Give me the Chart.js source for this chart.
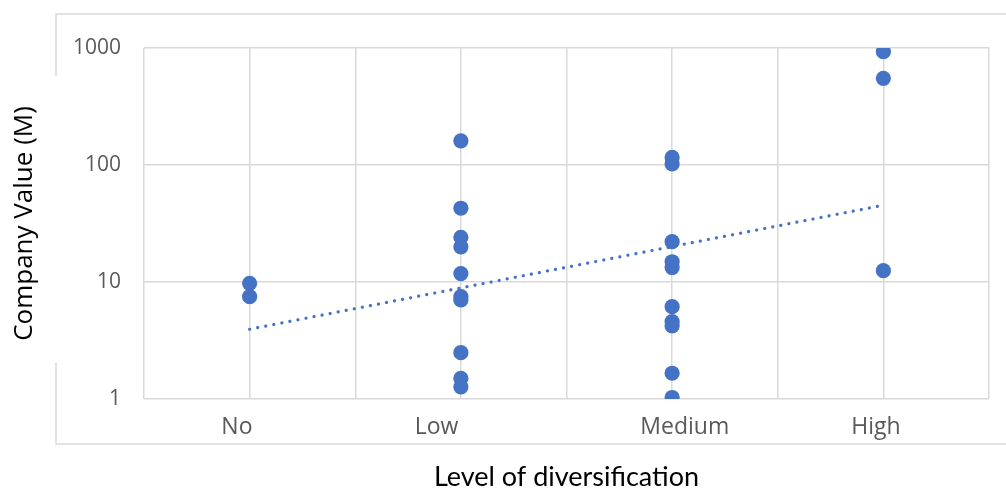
<!DOCTYPE html>
<html>
<head>
<meta charset="utf-8">
<script src="https://cdn.jsdelivr.net/npm/chart.js@4/dist/chart.umd.min.js"></script>
<style>
  html, body { margin: 0; padding: 0; background: #ffffff; }
  #wrap { width: 1006px; height: 491px; position: relative; }
</style>
</head>
<body>
<div id="wrap"><canvas id="chart" width="1006" height="491"></canvas></div>
<script>
// Diversification levels and their position on the horizontal scale
const categories = ['No', 'Low', 'Medium', 'High'];
const categoryX = [1, 3, 5, 7];

// Company values (millions) per level
const noValues = [9.75, 7.49];
const lowValues = [161, 42.7, 24.1, 20.0, 11.8, 7.49, 7.02, 2.49, 1.50, 1.27];
const mediumValues = [116, 102, 22.1, 14.9, 13.3, 6.15, 4.58, 4.21, 1.66, 1.03];
const highValues = [930, 551, 12.5];

// Value axis ticks (log scale)
const yTicks = [1, 10, 100, 1000];

const groups = [noValues, lowValues, mediumValues, highValues];
const points = [];
groups.forEach((vals, i) => vals.forEach(v => points.push({ x: categoryX[i], y: v })));

// Exponential trend line: least squares on log10(value)
function expTrend(pts) {
  const n = pts.length;
  let sx = 0, sy = 0, sxx = 0, sxy = 0;
  pts.forEach(p => {
    const ly = Math.log10(p.y);
    sx += p.x; sy += ly; sxx += p.x * p.x; sxy += p.x * ly;
  });
  const b = (n * sxy - sx * sy) / (n * sxx - sx * sx);
  const a = (sy - b * sx) / n;
  return x => Math.pow(10, a + b * x);
}
const trend = expTrend(points);
const xFirst = categoryX[0], xLast = categoryX[categoryX.length - 1];
const trendPoints = [{ x: xFirst, y: trend(xFirst) }, { x: xLast, y: trend(xLast) }];

const BLUE = '#4472C4';
const GRID = '#d9d9d9';
const TICK = '#595959';

// Shift of each category caption relative to its column
const captionShift = [-0.12, -0.23, 0.12, -0.07];

// Outer frame of the chart, opened where the value-axis title sits
const framePlugin = {
  id: 'frame',
  beforeDraw(chart) {
    const ctx = chart.ctx;
    ctx.save();
    ctx.strokeStyle = GRID;
    ctx.lineWidth = 1.5;
    ctx.beginPath();
    ctx.moveTo(1010, 14); ctx.lineTo(56, 14); ctx.lineTo(56, 76);
    ctx.moveTo(56, 363); ctx.lineTo(56, 444); ctx.lineTo(1010, 444);
    ctx.stroke();
    ctx.restore();
  }
};

new Chart(document.getElementById('chart'), {
  type: 'scatter',
  data: {
    datasets: [
      {
        type: 'line',
        data: trendPoints,
        borderColor: BLUE,
        borderWidth: 3.2,
        borderCapStyle: 'round',
        borderDash: [0.1, 8.1],
        pointRadius: 0,
        fill: false,
        order: 2
      },
      {
        data: points,
        backgroundColor: BLUE,
        borderWidth: 0,
        pointRadius: 7.6,
        pointHoverRadius: 7.6,
        order: 1
      }
    ]
  },
  options: {
    responsive: false,
    animation: false,
    events: [],
    layout: { padding: { top: 48, right: 17, left: 0, bottom: 0 } },
    plugins: { legend: { display: false }, tooltip: { enabled: false } },
    scales: {
      x: {
        type: 'linear',
        position: 'bottom',
        min: 0,
        max: 8,
        ticks: { display: false, stepSize: 1 },
        grid: { color: GRID, lineWidth: 1.5, drawTicks: false },
        border: { display: false },
        afterFit(scale) { scale.height = 0; }
      },
      xLabels: {
        type: 'linear',
        position: 'bottom',
        min: 0,
        max: 8,
        grid: { display: false, drawTicks: false },
        border: { display: false },
        afterBuildTicks(scale) {
          scale.ticks = categoryX.map((v, i) => ({ value: v + captionShift[i] }));
        },
        ticks: {
          autoSkip: false,
          maxRotation: 0,
          padding: 15,
          color: TICK,
          font: { family: 'Open Sans', size: 23 },
          callback: (value, index) => categories[index]
        },
        title: {
          display: true,
          text: 'Level of diversification',
          color: '#000000',
          font: { family: 'Lato', size: 27, lineHeight: 1 },
          padding: { top: 0, bottom: 0.5 }
        },
        afterFit(scale) { scale.height = 92; }
      },
      y: {
        type: 'logarithmic',
        min: 1,
        max: 1000,
        afterBuildTicks(scale) {
          scale.ticks = yTicks.map(v => ({ value: v }));
        },
        ticks: {
          padding: 23,
          color: TICK,
          font: { family: 'Open Sans', size: 21 },
          callback: v => String(v)
        },
        grid: { color: GRID, lineWidth: 1.5, drawTicks: false },
        border: { display: false },
        title: {
          display: true,
          text: 'Company Value (M)',
          color: '#000000',
          font: { family: 'Open Sans', size: 26, lineHeight: 1 },
          padding: { top: 11.5, bottom: 0 }
        },
        afterFit(scale) { scale.width = 144; }
      }
    }
  },
  plugins: [framePlugin]
});
</script>
</body>
</html>
